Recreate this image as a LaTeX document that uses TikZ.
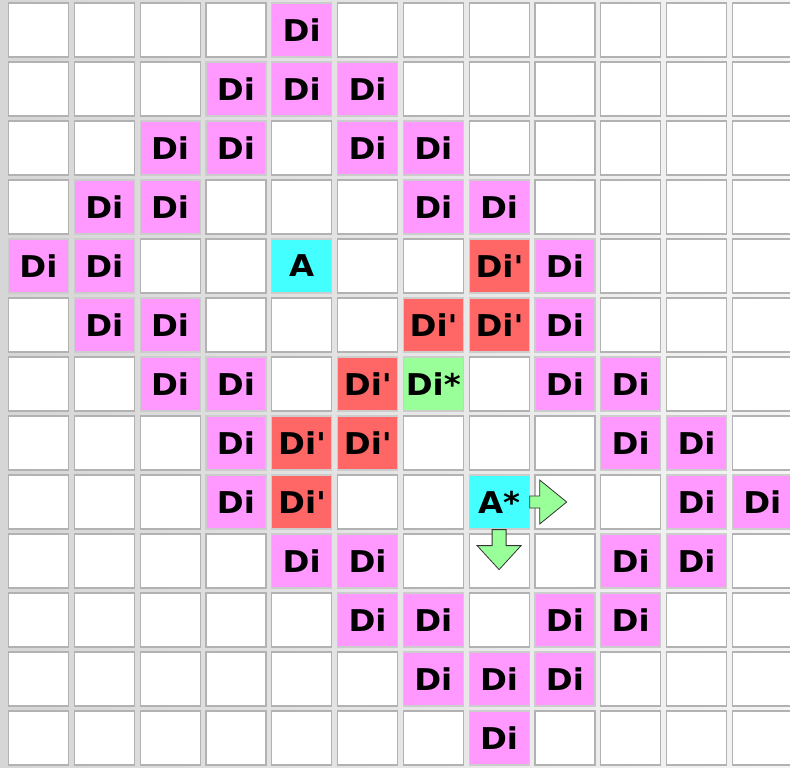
\documentclass[tikz,border=0pt]{standalone}
\usepackage{fontspec}
\newfontfamily\cellfont[FakeStretch=1.08]{DejaVu Sans}
\usepackage{xcolor}
\definecolor{dipink}{HTML}{FF99FF}
\definecolor{dired}{HTML}{FF6666}
\definecolor{digreen}{HTML}{99FF99}
\definecolor{acyan}{HTML}{44FFFF}

\begin{document}
\begin{tikzpicture}[x=1pt, y=-1pt,
    cell/.style={draw=gray!60, line width=1.2pt, fill=white,
      minimum width=60pt, minimum height=54pt, inner sep=0pt},
    lbl/.style={cell, draw=gray!40, font=\cellfont\bfseries\fontsize{30}{34}\selectfont},
    dicell/.style={lbl, fill=dipink},
    diprime/.style={lbl, fill=dired},
    distar/.style={lbl, fill=digreen},
    acell/.style={lbl, fill=acyan},
    movearrow/.style={draw=black!80, line width=0.8pt, fill=digreen, line join=miter}]
  \useasboundingbox (0,0) rectangle (790,768);
  % Background
  \shade[left color=gray!32, right color=gray!8] (0,0) rectangle (790,768);
  % Empty grid
  \foreach \i in {0,...,11}
    \foreach \j in {0,...,12}
      \node[cell] (c-\i-\j) at ({38.5+65.8*\i}, {30+59*\j}) {};
  % Di cells
  \foreach \i/\j in {4/0, 3/1, 4/1, 5/1, 2/2, 3/2, 5/2, 6/2, 1/3, 2/3, 6/3, 7/3,
      0/4, 1/4, 8/4, 1/5, 2/5, 8/5, 2/6, 3/6, 8/6, 9/6, 3/7, 9/7, 10/7,
      3/8, 10/8, 11/8, 4/9, 5/9, 9/9, 10/9, 5/10, 6/10, 8/10, 9/10,
      6/11, 7/11, 8/11, 7/12}
    \node[dicell] (di-\i-\j) at (c-\i-\j) {Di};
  % Di' cells
  \foreach \i/\j in {7/4, 6/5, 7/5, 5/6, 4/7, 5/7, 4/8}
    \node[diprime] (dp-\i-\j) at (c-\i-\j) {Di\textquotesingle};
  \node[distar] (dstar) at (c-6-6) {Di*};
  % Agents
  \node[acell] (a) at (c-4-4) {A};
  \node[acell] (astar) at (c-7-8) {A*};
  % Moves
  \draw[movearrow] (astar.east) ++(0,-6) -- ++(10,0) -- ++(0,-16) -- ++(27,22)
    -- ++(-27,22) -- ++(0,-16) -- ++(-10,0) -- cycle;
  \draw[movearrow] (astar.south) ++(-7,0) -- ++(0,16) -- ++(-15,0) -- ++(22,24)
    -- ++(22,-24) -- ++(-15,0) -- ++(0,-16) -- cycle;
\end{tikzpicture}
\end{document}
